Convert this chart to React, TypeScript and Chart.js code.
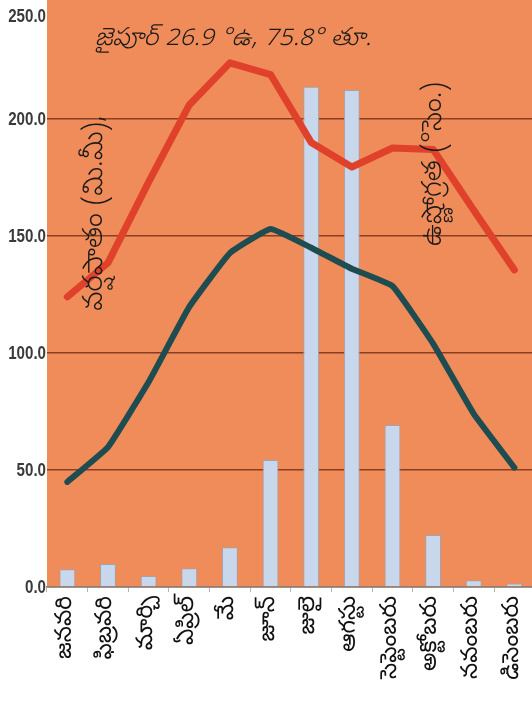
import React, { useEffect, useRef } from 'react';
import { Chart, registerables } from 'chart.js';

Chart.register(...registerables);

const months = ['జనవరి', 'ఫిబ్రవరి', 'మార్చి', 'ఏప్రిల్', 'మే', 'జూన్', 'జులై', 'ఆగస్టు', 'సెప్టెంబరు', 'అక్టోబరు', 'నవంబరు', 'డిసెంబరు'];
const rainfall = [7.6, 9.8, 4.7, 8.0, 17.0, 54.3, 213.8, 212.4, 69.2, 22.2, 2.9, 1.5];
const maxTemp = [124, 138.5, 173, 206, 224, 219, 190, 179.5, 187.6, 187, 161, 135.5];
const minTemp = [44.9, 59.8, 87.6, 119.7, 142.7, 153, 145, 136, 128.6, 104, 74, 51];
const yTickValues = [0, 50, 100, 150, 200, 250];
const titleText = 'జైపూర్ 26.9 °ఉ, 75.8° తూ.';
const rainLabel = 'వర్షపాతం (మి.మీ),';
const tempLabel = 'ఉష్ణోగ్రత (°సెం.)';

const TELUGU = '"Noto Sans Telugu", "Noto Serif Telugu", "Lohit Telugu", "Noto Sans", sans-serif';
const NUMFONT = '"Liberation Sans", Arial, sans-serif';

const W = 546;
const H = 701;
const yMin = yTickValues[0];
const yMax = yTickValues[yTickValues.length - 1];

const decor = {
  id: 'decor',
  beforeDraw(chart: any) {
    const { ctx, chartArea } = chart;
    ctx.save();
    ctx.fillStyle = '#ef8c59';
    ctx.fillRect(chartArea.left, 0, chartArea.right - chartArea.left, chartArea.bottom);
    ctx.restore();
  },
  afterDatasetsDraw(chart: any) {
    const { ctx, chartArea } = chart;
    ctx.save();
    ctx.fillStyle = '#1a1a1a';
    ctx.textBaseline = 'middle';
    ctx.font = 'italic 300 25px ' + TELUGU;
    ctx.textAlign = 'left';
    ctx.fillText(titleText, chartArea.left + 48, 41);
    ctx.textAlign = 'center';
    ctx.font = '300 28px ' + TELUGU;
    ctx.save();
    ctx.translate(chartArea.left + 51, 213);
    ctx.rotate(-Math.PI / 2);
    ctx.fillText(rainLabel, 0, 0);
    ctx.restore();
    ctx.save();
    ctx.translate(chartArea.left + 390, 164);
    ctx.rotate(-Math.PI / 2);
    ctx.fillText(tempLabel, 0, 0);
    ctx.restore();
    ctx.restore();
  },
  afterDraw(chart: any) {
    const { ctx, chartArea, scales } = chart;
    ctx.save();
    ctx.font = 'bold 18px ' + NUMFONT;
    ctx.fillStyle = '#3a3a3a';
    ctx.textAlign = 'right';
    ctx.textBaseline = 'middle';
    yTickValues.forEach((v) => {
      let y = scales.y.getPixelForValue(v);
      if (v === yMax) y += 14;
      ctx.save();
      ctx.translate(chartArea.left - 1, y + 1);
      ctx.scale(0.84, 1);
      ctx.fillText(v.toFixed(1), 0, 0);
      ctx.restore();
    });
    ctx.restore();
  },
};

export default function App() {
  const ref = useRef<HTMLCanvasElement>(null);
  useEffect(() => {
    if (!ref.current) return;
    const chart = new Chart(ref.current, {
      type: 'bar',
      data: {
        labels: months,
        datasets: [
          {
            type: 'line',
            label: 'max',
            data: maxTemp,
            borderColor: '#e0412a',
            borderWidth: 7,
            pointRadius: 0,
            tension: 0,
            borderCapStyle: 'round',
            borderJoinStyle: 'round',
            order: 1,
          } as any,
          {
            type: 'line',
            label: 'min',
            data: minTemp,
            borderColor: '#1f4c50',
            borderWidth: 6,
            pointRadius: 0,
            tension: 0.1,
            borderCapStyle: 'round',
            borderJoinStyle: 'round',
            order: 2,
          } as any,
          {
            type: 'bar',
            label: 'rain',
            data: rainfall,
            backgroundColor: '#c8d7ec',
            borderColor: '#9ea3b0',
            borderWidth: 1,
            barPercentage: 0.39,
            categoryPercentage: 1,
            order: 3,
          } as any,
        ],
      },
      options: {
        responsive: false,
        animation: false,
        devicePixelRatio: 1,
        layout: { padding: { top: 2, right: 0, left: 0, bottom: 0 } },
        plugins: { legend: { display: false }, tooltip: { enabled: false } },
        scales: {
          x: {
            offset: true,
            grid: {
              display: true,
              offset: true,
              drawOnChartArea: false,
              drawTicks: true,
              tickLength: 5,
              color: '#b9b4b0',
            },
            border: { display: true, color: '#8f8078', width: 1.5 },
            ticks: {
              minRotation: 90,
              maxRotation: 90,
              autoSkip: false,
              padding: 4,
              color: '#111111',
              font: { family: TELUGU, size: 23 },
            },
            afterFit: (s: any) => { s.height = H - 587; },
          },
          y: {
            min: yMin,
            max: yMax,
            ticks: { display: false, stepSize: 50 },
            grid: {
              drawTicks: false,
              color: (c: any) => (c.tick && c.tick.value === yMax ? 'rgba(0,0,0,0)' : '#8a3d22'),
              lineWidth: 1.5,
            },
            border: { display: false },
            afterFit: (s: any) => { s.width = 47; },
          },
        },
      },
      plugins: [decor],
    } as any);
    return () => chart.destroy();
  }, []);
  return (
    <div style={{ position: 'absolute', left: 0, top: 0, width: 532, height: H, overflow: 'hidden', background: '#ffffff' }}>
      <canvas ref={ref} width={W} height={H} style={{ display: 'block', width: W, height: H }} />
    </div>
  );
}
